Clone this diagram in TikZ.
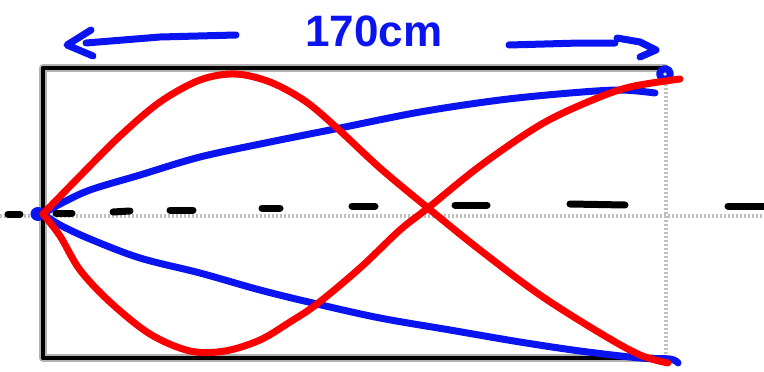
\documentclass[tikz,border=0pt]{standalone}
\usepackage{fontspec}
\newfontfamily\labelfont{Liberation Sans}
\definecolor{penblue}{RGB}{10,20,240}
\definecolor{penred}{RGB}{250,0,0}
\begin{document}
\begin{tikzpicture}[x=1pt,y=-1pt,line cap=round,line join=round,
  pen/.style={line width=7pt},
  bluepen/.style={pen,draw=penblue},
  redpen/.style={pen,draw=penred},
  framefuzz/.style={line width=8pt,draw=black!30},
  framecore/.style={line width=4.5pt,draw=black},
  guide/.style={line width=3.5pt,draw=black!25,dash pattern=on 2pt off 2pt,line cap=butt},
  dashmark/.style={line width=7pt,draw=black}]
\useasboundingbox (0,0) rectangle (764,372);
% guides
\draw[guide] (0,216) -- (764,216);
\draw[guide] (666,68) -- (666,368);
% frame
\draw[framefuzz] (665,68) -- (43,68) -- (43,358) -- (652,358);
\draw[framecore] (665,68) -- (43,68) -- (43,358) -- (652,358);
% dashed axis marks
\foreach \a/\b/\c/\d in {8/214/20/214, 56/213/72/213, 113/212/130/211, 170/210/193/210, 262/208/280/208, 352/206/375/206, 455/205/487/205, 570/204/625/205, 728/206/764/206}
  \draw[dashmark] (\a,\b) -- (\c,\d);
% label and arrows
\node[text=penblue,font=\labelfont\bfseries\fontsize{44}{44}\selectfont,anchor=base] (lbl) at (374,46) {170cm};
\draw[bluepen] (236,35) -- (160,37) -- (86,43);
\draw[bluepen] (91,30) -- (67,45) -- (93,56);
\draw[bluepen] (509,45) -- (580,43) -- (615,43);
\draw[bluepen] (617,38) -- (640,42) -- (656,50) -- (640,57);
% blue curves
\draw[bluepen] plot[smooth,tension=0.55] coordinates {(43,214) (60,204) (90,190) (140,175) (200,157) (270,142) (340,128) (420,112) (500,100) (570,93) (620,90) (655,93)};
\draw[bluepen] plot[smooth,tension=0.55] coordinates {(43,214) (60,225) (90,239) (140,258) (200,273) (260,290) (317,304) (380,318) (450,330) (520,342) (580,351) (640,358) (670,359) (678,363)};
\draw[bluepen] (665,74) circle[radius=5.5];
\fill[penblue] (38,214) ellipse[x radius=7.5,y radius=7];
\fill[penblue] (667,360) ellipse[x radius=5,y radius=4.5];
% red curves
\draw[redpen] plot[smooth,tension=0.55] coordinates {(43,214) (80,176) (120,136) (160,102) (200,80) (235,74) (270,82) (305,101) (337,128) (380,168) (428,208) (480,250) (540,295) (600,333) (640,355) (668,363)};
\draw[redpen] plot[smooth,tension=0.55] coordinates {(43,214) (60,236) (80,270) (110,302) (150,334) (190,351) (225,351) (260,340) (290,322) (317,304) (360,268) (400,230) (428,208) (480,166) (540,125) (590,101) (630,87) (680,79)};
\end{tikzpicture}
\end{document}
